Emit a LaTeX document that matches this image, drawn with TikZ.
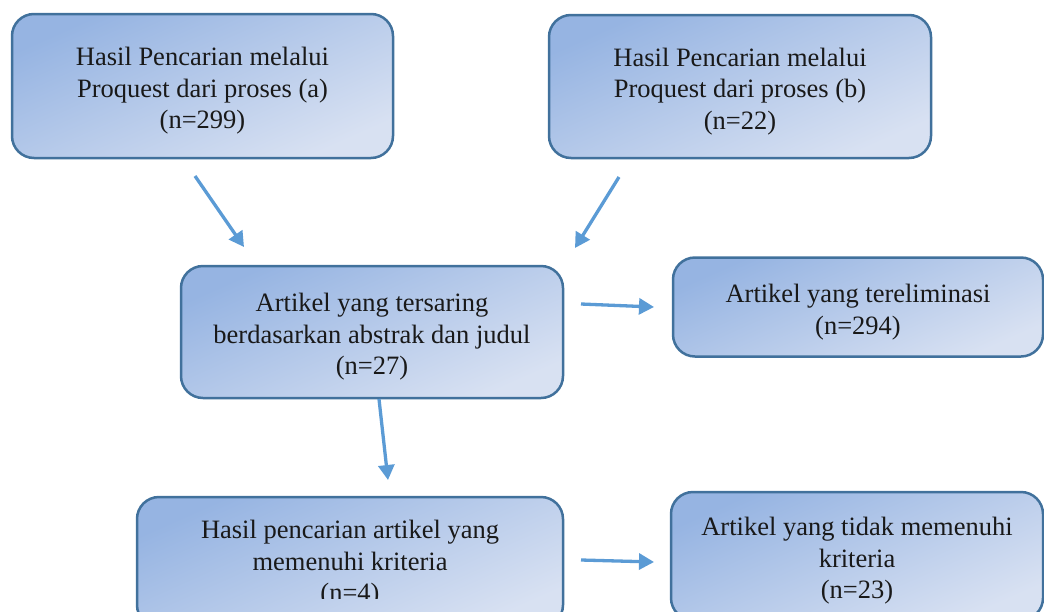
\documentclass[tikz,border=0pt]{standalone}
\usepackage{fontspec}
\setmainfont{Liberation Serif}
\usetikzlibrary{arrows.meta}
\definecolor{boxtl}{RGB}{150,180,226}
\definecolor{boxbr}{RGB}{216,225,242}
\definecolor{boxline}{RGB}{65,113,156}
\definecolor{arr}{RGB}{91,155,213}
\tikzset{
  box/.style={rectangle, rounded corners=22pt, draw=boxline, line width=2.5pt,
    top color=boxtl, bottom color=boxbr, shading angle=24, inner sep=0pt},
  txt/.style={inner sep=0pt, align=center, font=\fontsize{26.5}{31.5}\selectfont,
    text=black!90, yshift=-5pt},
  arrow/.style={draw=arr, line width=3.3pt, -{Triangle[length=15pt,width=16pt]}}
}
\begin{document}
\begin{tikzpicture}[x=1pt,y=-1pt]
\useasboundingbox (0,0) rectangle (1044,611);
\clip (0,0) rectangle (1044,611);
\node[box, minimum width=381, minimum height=144] (A) at (202.5,86) {};
\node[txt] (At) at (A.center) {Hasil Pencarian melalui\\Proquest dari proses (a)\\(n=299)};
\node[box, minimum width=382, minimum height=143] (B) at (740,86.5) {};
\node[txt] (Bt) at (B.center) {Hasil Pencarian melalui\\Proquest dari proses (b)\\(n=22)};
\node[box, minimum width=382, minimum height=132] (C) at (372,332) {};
\node[txt] (Ct) at (C.center) {Artikel yang tersaring\\berdasarkan abstrak dan judul\\(n=27)};
\node[box, minimum width=370, minimum height=99] (D) at (858,307) {};
\node[txt] (Dt) at (D.center) {Artikel yang tereliminasi\\(n=294)};
\node[box, minimum width=426, minimum height=130] (E) at (350,562) {};
\begin{scope}
  \clip (137,497) rectangle (563,598.5);
  \node[txt, yshift=3pt] (Et) at (E.center) {Hasil pencarian artikel yang\\memenuhi kriteria\\(n=4)};
\end{scope}
\node[box, minimum width=372, minimum height=128] (F) at (857,556) {};
\node[txt] (Ft) at (F.center) {Artikel yang tidak memenuhi\\kriteria\\(n=23)};
\coordinate (a1s) at (195,176); \coordinate (a1e) at (244,247);
\coordinate (a2s) at (619,177); \coordinate (a2e) at (575,248);
\coordinate (a3s) at (581,304); \coordinate (a3e) at (654,307);
\coordinate (a4s) at (379,399); \coordinate (a4e) at (388,480);
\coordinate (a5s) at (581,560); \coordinate (a5e) at (654,562);
\draw[arrow] (a1s) -- (a1e);
\draw[arrow] (a2s) -- (a2e);
\draw[arrow] (a3s) -- (a3e);
\draw[arrow] (a4s) -- (a4e);
\draw[arrow] (a5s) -- (a5e);
\end{tikzpicture}
\end{document}
